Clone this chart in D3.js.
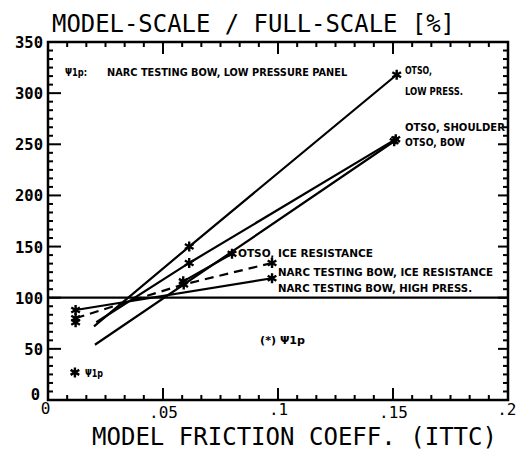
<!DOCTYPE html>
<html>
<head>
<meta charset="utf-8">
<script src="https://cdn.jsdelivr.net/npm/d3@7"></script>
<style>
  body { margin: 0; background: #fff; }
  svg { display: block; }
  .lbl { font-family: "DejaVu Sans Condensed", "DejaVu Sans", sans-serif; font-weight: bold; font-size: 11px; }
  .big { font-family: "DejaVu Sans Mono", monospace; font-size: 24px; }
</style>
</head>
<body>
<svg width="516" height="455"></svg>
<script>
// axis ticks
var xTicks = [0, 0.05, 0.1, 0.15, 0.2];
var xTickLabels = ["0", ".05", ".1", ".15", ".2"];
var yTicks = [0, 50, 100, 150, 200, 250, 300, 350];

// series  [friction coeff, model/full %]
var otsoLowPress = [[0.020, 72], [0.0614, 150], [0.1516, 318]];
var otsoShoulder = [[0.021, 76], [0.0614, 134], [0.1512, 255]];
var otsoBow = [[0.0204, 54], [0.080, 145], [0.1505, 253]];
var otsoIceRes = [[0.0588, 116], [0.080, 143]];
var narcIceRes = [[0.012, 80], [0.059, 113], [0.0974, 134]];
var narcHighPress = [[0.012, 88], [0.0974, 119]];
var reference100 = [[0, 100], [0.2, 100]];

// star markers
var stars = [
  [0.0614, 150], [0.1516, 318],
  [0.0614, 134], [0.1512, 255], [0.1505, 253],
  [0.0588, 116], [0.080, 143],
  [0.012, 80], [0.059, 113], [0.0974, 134],
  [0.012, 88], [0.0974, 119],
  [0.012, 76], [0.0117, 27]
];

// annotations: text, x, y (data), width px
var notes = [
  ["\u03A81p:", 0.0074, 316.7, 22],
  ["NARC TESTING BOW, LOW PRESSURE PANEL", 0.0257, 316.7, 240],
  ["OTSO,", 0.1552, 318.7, 27],
  ["LOW PRESS.", 0.1552, 298.2, 58],
  ["OTSO, SHOULDER", 0.1552, 263, 100],
  ["OTSO, BOW", 0.1552, 248.3, 60],
  ["OTSO, ICE RESISTANCE", 0.0826, 139.8, 135],
  ["NARC TESTING BOW, ICE RESISTANCE", 0.1, 121.2, 215],
  ["NARC TESTING BOW, HIGH PRESS.", 0.1, 105.6, 194],
  ["(*) \u03A81p", 0.0922, 54.7, 45],
  ["\u03A81p", 0.0161, 22.5, 18]
];

var svg = d3.select("svg");

var x = d3.scaleLinear().domain([0, 0.2]).range([48, 508]);
var y = d3.scaleLinear().domain([0, 350]).range([400, 42]);

// tick marks as small filled rects, pointing inward on all four sides
var xMinor = d3.range(0, 0.2001, 0.05 / 6);
var yMinor = d3.range(0, 350.1, 50 / 6);
var tickG = svg.append("g").attr("class", "ticks");

tickG.selectAll(".xt-top")
  .data(xMinor)
  .enter()
  .append("rect").attr("class", "xt-top")
  .attr("x", function(d){ return x(d) - 1; })
  .attr("y", y(350))
  .attr("width", 2)
  .attr("height", function(d, i){ return i % 6 == 0 ? 12 : 5; })
  .attr("fill", "#000");

tickG.selectAll(".xt-bot")
  .data(xMinor)
  .enter()
  .append("rect").attr("class", "xt-bot")
  .attr("x", function(d){ return x(d) - 1; })
  .attr("y", function(d, i){ return y(0) - (i % 6 == 0 ? 12 : 5); })
  .attr("width", 2)
  .attr("height", function(d, i){ return i % 6 == 0 ? 12 : 5; })
  .attr("fill", "#000");

tickG.selectAll(".yt-left")
  .data(yMinor)
  .enter()
  .append("rect").attr("class", "yt-left")
  .attr("x", x(0))
  .attr("y", function(d){ return y(d) - 1; })
  .attr("width", function(d, i){ return i % 6 == 0 ? 13 : 5; })
  .attr("height", 2)
  .attr("fill", "#000");

tickG.selectAll(".yt-right")
  .data(yMinor)
  .enter()
  .append("rect").attr("class", "yt-right")
  .attr("x", function(d, i){ return x(0.2) - (i % 6 == 0 ? 10 : 5); })
  .attr("y", function(d){ return y(d) - 1; })
  .attr("width", function(d, i){ return i % 6 == 0 ? 10 : 5; })
  .attr("height", 2)
  .attr("fill", "#000");

svg.append("rect")
  .attr("x", x(0)).attr("y", y(350))
  .attr("width", x(0.2) - x(0)).attr("height", y(0) - y(350))
  .attr("fill", "none").attr("stroke", "#000").attr("stroke-width", 2.5);

// y labels
var yl = svg.append("g").attr("transform", "translate(48,0)")
  .call(d3.axisLeft(y).tickValues(yTicks).tickSize(0).tickPadding(5));
yl.select(".domain").remove();
yl.selectAll("text")
  .style("font-family", "DejaVu Sans Mono, monospace")
  .style("font-weight", "bold").style("font-size", "15.5px")
  .attr("dy", function(d){ return d == 0 ? "-0.05em" : "0.35em"; })
  .attr("x", function(d){ return d == 0 ? -8 : -5; });

// x labels
var xl = svg.append("g").attr("transform", "translate(0,400)")
  .call(d3.axisBottom(x).tickValues(xTicks).tickSize(0).tickPadding(8)
    .tickFormat(function(d, i){ return xTickLabels[i]; }));
xl.select(".domain").remove();
xl.selectAll("text")
  .style("font-family", "DejaVu Sans Mono, monospace")
  .style("font-size", "16px")
  .attr("text-anchor", function(d){ return d == 0.2 ? "end" : "middle"; })
  .attr("dx", function(d){ return d == 0 ? -3 : (d == 0.2 ? 8 : 0); })
  .attr("dy", function(d){ return d == 0 ? "0.35em" : (d == 0.1 || d == 0.2 ? "0.45em" : "0.6em"); });

// lines
var lineGen = d3.line()
  .x(function(d){ return x(d[0]); })
  .y(function(d){ return y(d[1]); });

var solid = [otsoLowPress, otsoShoulder, otsoBow, otsoIceRes, narcHighPress, reference100];
svg.selectAll(".solid")
  .data(solid)
  .enter()
  .append("path").attr("class", "solid")
  .attr("d", lineGen)
  .attr("fill", "none").attr("stroke", "#000").attr("stroke-width", 2.2);

svg.append("path")
  .datum(narcIceRes)
  .attr("d", lineGen)
  .attr("fill", "none").attr("stroke", "#000").attr("stroke-width", 2.2)
  .attr("stroke-dasharray", "9,6");

// stars
var star = d3.symbol().type(d3.symbolAsterisk).size(70);
svg.selectAll(".star")
  .data(stars)
  .enter()
  .append("path").attr("class", "star")
  .attr("transform", function(d){ return "translate(" + x(d[0]) + "," + y(d[1]) + ")"; })
  .attr("d", star)
  .attr("fill", "none").attr("stroke", "#000").attr("stroke-width", 2.4);

// annotation text
svg.selectAll(".lbl")
  .data(notes)
  .enter()
  .append("text").attr("class", "lbl")
  .attr("x", function(d){ return x(d[1]); })
  .attr("y", function(d){ return y(d[2]); })
  .attr("textLength", function(d){ return d[3]; })
  .attr("lengthAdjust", "spacingAndGlyphs")
  .text(function(d){ return d[0]; });

// titles
svg.append("text").attr("class", "big")
  .attr("x", 52).attr("y", 32)
  .attr("textLength", 403).attr("lengthAdjust", "spacingAndGlyphs")
  .text("MODEL-SCALE / FULL-SCALE [%]");

svg.append("text").attr("class", "big")
  .attr("x", 92).attr("y", 445)
  .attr("textLength", 405).attr("lengthAdjust", "spacingAndGlyphs")
  .text("MODEL FRICTION COEFF. (ITTC)");
</script>
</body>
</html>
